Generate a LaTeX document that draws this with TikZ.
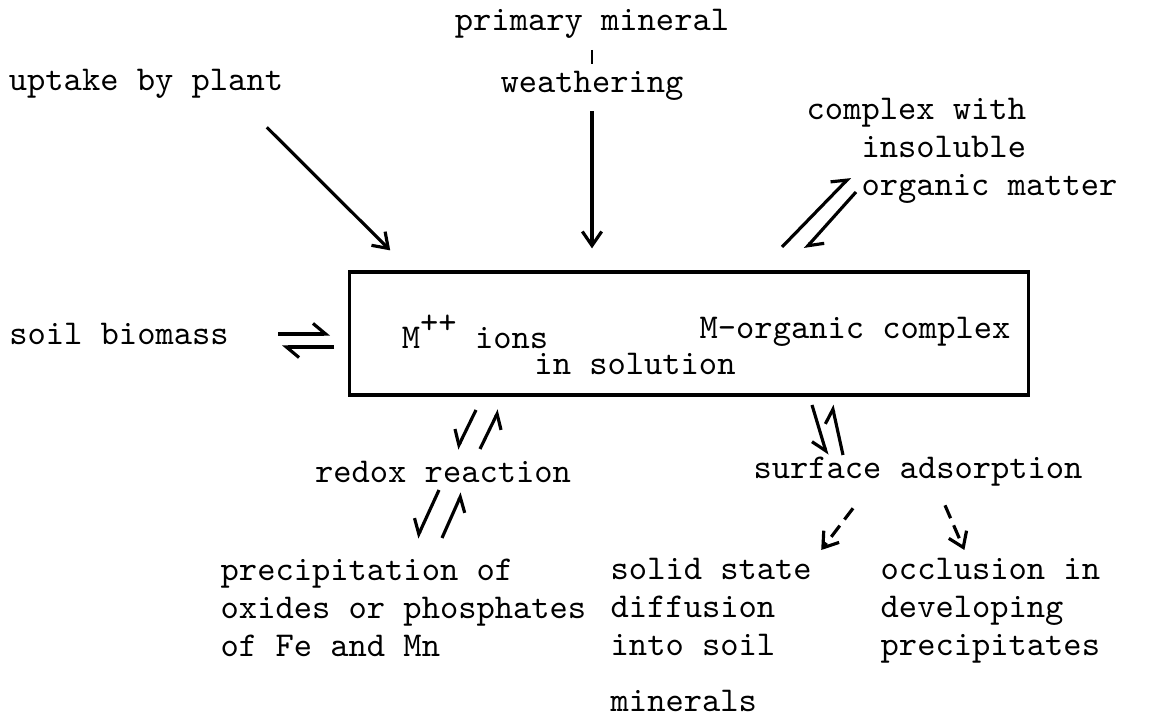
\documentclass[tikz,border=0pt]{standalone}
\usetikzlibrary{positioning, arrows.meta, calc}
\tikzset{
  lbl/.style={
    font=\fontsize{9.9}{10.8}\selectfont\ttfamily,
    inner sep=0pt,
    align=left
  },
  flow/.style={
    -{Straight Barb[length=4pt,width=5.5pt]},
    line width=0.9pt
  },
  eqL/.style={
    -{Straight Barb[harpoon,length=3.6pt,width=6pt]},
    line width=0.9pt
  },
  eqR/.style={
    -{Straight Barb[harpoon,swap,length=3.6pt,width=6pt]},
    line width=0.9pt
  },
  slowflow/.style={
    flow,
    dash pattern=on 4pt off 2.2pt
  },
  solbox/.style={
    draw, line width=0.9pt,
    minimum width=6.78cm,
    minimum height=1.23cm,
    inner sep=0pt
  }
}
\newcommand{\pp}{\raisebox{0.45em}{++}}

\begin{document}
\begin{tikzpicture}[x=0.01cm, y=-0.01cm]
  \useasboundingbox (0,0) rectangle (1154,725);

  % sources above the solution
  \node[lbl] (prim) at (592,24) {primary mineral};
  \node[lbl] (weath) at (592,86) {weathering};
  \node[lbl] (uptake) at (146,84) {uptake by plant};
  \node[lbl, anchor=north west] (cplx) at (806,98) {complex with\\\phantom{xxx}insoluble\\\phantom{xxx}organic matter};

  % the soil solution
  \node[solbox] (sol) at (689,333.5) {};
  \node[lbl] (ions) at (475,332) {M\pp{} ions};
  \node[lbl] (morg) at (855,332) {M-organic complex};
  \node[lbl] (insol) at (635,364) {in solution};
  \node[lbl] (soil) at (119,334) {soil biomass};

  % sinks below the solution
  \node[lbl] (redox) at (443,472) {redox reaction};
  \node[lbl] (surf) at (918,472) {surface adsorption};
  \node[lbl, anchor=north west] (precip) at (220,558) {precipitation of\\oxides or phosphates\\of Fe and Mn};
  \node[lbl, anchor=north west] (diffus) at (610,558) {solid state\\diffusion\\into soil\\[5pt]minerals};
  \node[lbl, anchor=north west] (occl) at (880,558) {occlusion in\\developing\\precipitates};

  % one-way arrows
  \draw[line width=0.8pt, shorten <=3pt, shorten >=2pt] (prim) -- (weath);
  \draw[flow, shorten <=0.1cm, shorten >=0.22cm] (weath) -- (weath |- sol.north);
  \draw[flow] ($(uptake.south east)+(-17,28)$) -- ($(sol.north west)+(42,-20)$);
  \draw[slowflow] ($(surf.south)+(-65,21)$) -- ($(diffus.north)+(110,-8)$);
  \draw[slowflow] ($(surf.south)+(27,18)$) -- ($(occl.north)+(-26,-8)$);

  % equilibria
  \coordinate (cA) at (782,247);
  \coordinate (cB) at (850,177);
  \coordinate (cC) at (856,192);
  \coordinate (cD) at (805,249);
  \draw[eqL] (cA) -- (cB);
  \draw[eqL] (cC) -- (cD);

  \coordinate (sA) at (278,334);
  \coordinate (sB) at (330,334);
  \draw[eqL] (sA) -- (sB);
  \draw[eqL] ($(sB)+(4,13)$) -- ($(sA)+(4,13)$);

  \coordinate (rA) at (476,410);
  \coordinate (rB) at (457,449);
  \draw[eqR] (rA) -- (rB);
  \draw[eqR] (480,449) -- (499,410);
  \coordinate (pA) at (439,490);
  \coordinate (pB) at (417,538);
  \draw[eqR] (pA) -- (pB);
  \draw[eqR] (442,538) -- (462,493);

  \coordinate (aA) at (812,405);
  \coordinate (aB) at (827,455);
  \draw[eqR] (aA) -- (aB);
  \draw[eqL] (843,455) -- (832,405);
\end{tikzpicture}
\end{document}
